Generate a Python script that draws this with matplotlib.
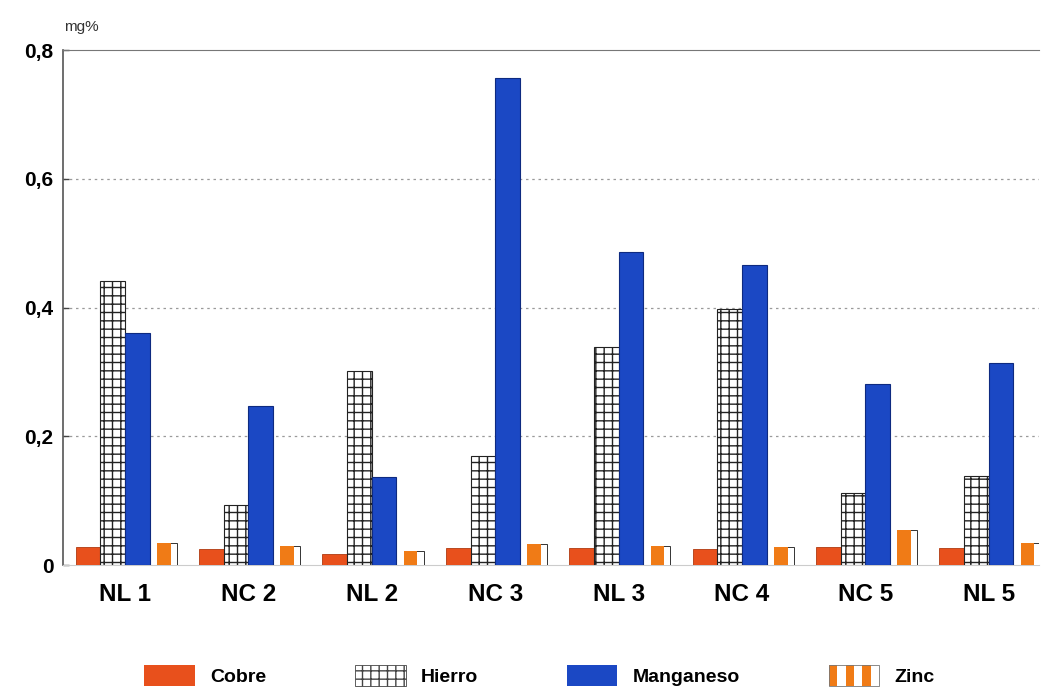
import matplotlib
matplotlib.use("Agg")
import matplotlib.pyplot as plt
import matplotlib.patches as mpatches
from matplotlib.legend_handler import HandlerBase
import numpy as np

plt.rcParams['font.family'] = ['Liberation Sans', 'DejaVu Sans']

categories = ["NL 1", "NC 2", "NL 2", "NC 3", "NL 3", "NC 4", "NC 5", "NL 5"]
cobre = [0.028, 0.025, 0.018, 0.027, 0.027, 0.025, 0.028, 0.027]
hierro = [0.441, 0.093, 0.301, 0.169, 0.339, 0.398, 0.112, 0.138]
manganeso = [0.360, 0.247, 0.137, 0.757, 0.486, 0.466, 0.281, 0.314]
zinc = [0.034, 0.030, 0.022, 0.033, 0.030, 0.028, 0.055, 0.034]
series_names = ["Cobre", "Hierro", "Manganeso", "Zinc"]
yticks = [0, 0.2, 0.4, 0.6, 0.8]
ytick_labels = ["0", "0,2", "0,4", "0,6", "0,8"]

c_cobre = "#e8501c"
c_mn = "#1b48c4"
c_zinc = "#f07b16"
edge = "#333333"

fig = plt.figure(figsize=(10.42, 6.91), dpi=100)
ax = fig.add_axes([0.0605, 0.182, 0.937, 0.7455])

x = np.arange(len(categories))
w = 0.2
ax.bar(x - 0.30, cobre, w, color=c_cobre, edgecolor="#b03a10", linewidth=0.6, zorder=3)
ax.bar(x - 0.10, hierro, w, color="white", edgecolor="#222222", hatch="++", linewidth=0.8, zorder=3)
ax.bar(x + 0.10, manganeso, w, color=c_mn, edgecolor="#0e2a80", linewidth=0.8, zorder=3)
# zinc: orange with white stripe
ax.bar(x + 0.34, zinc, 0.16, color="white", edgecolor=edge, linewidth=0.7, zorder=3)
ax.bar(x + 0.315, zinc, 0.11, color=c_zinc, edgecolor="none", linewidth=0, zorder=4)

ax.set_xlim(-0.502, 7.41)
ax.set_ylim(0, 0.8)
ax.set_yticks(yticks)
ax.set_yticklabels(ytick_labels, fontsize=15, fontweight="bold")
ax.set_xticks(x)
ax.set_xticklabels(categories, fontsize=17.5, fontweight="bold")
ax.tick_params(axis="x", length=0, pad=13)
ax.tick_params(axis="y", direction="in", length=4, width=1, pad=7, color="#444444")

for y in [0.2, 0.4, 0.6]:
    ax.axhline(y, color="#9a9a9a", linestyle=(0, (2, 3)), linewidth=0.9, zorder=1)

ax.spines["right"].set_visible(False)
ax.spines["top"].set_color("#777777")
ax.spines["left"].set_color("#555555")
ax.spines["bottom"].set_color("#cccccc")
ax.spines["left"].set_linewidth(1.2)

fig.text(0.061, 0.955, "mg%", fontsize=11, color="#333333")


class StripeHandler(HandlerBase):
    def create_artists(self, legend, orig_handle, xdescent, ydescent, width, height, fontsize, trans):
        arts = []
        n = 6
        sw = width / n
        for i in range(n):
            col = c_zinc if i % 2 == 0 else "white"
            r = mpatches.Rectangle((-xdescent + i * sw, -ydescent), sw, height,
                                   facecolor=col, edgecolor="none", transform=trans)
            arts.append(r)
        border = mpatches.Rectangle((-xdescent, -ydescent), width, height, facecolor="none",
                                    edgecolor="#777777", linewidth=0.6, transform=trans)
        arts.append(border)
        return arts


zinc_handle = mpatches.Patch(facecolor=c_zinc)
handles = [
    mpatches.Patch(facecolor=c_cobre, edgecolor="none"),
    mpatches.Patch(facecolor="white", edgecolor="#444444", hatch="++", linewidth=0.6),
    mpatches.Patch(facecolor=c_mn, edgecolor="none"),
    zinc_handle,
]
leg = fig.legend(handles, series_names, loc="lower center", ncol=4, frameon=False,
                 bbox_to_anchor=(0.518, -0.018), handlelength=2.6, handleheight=1.3,
                 columnspacing=4.55, handletextpad=0.8, prop={"size": 14, "weight": "bold"},
                 handler_map={zinc_handle: StripeHandler()})

fig.savefig("out.png", dpi=100, facecolor="white")
